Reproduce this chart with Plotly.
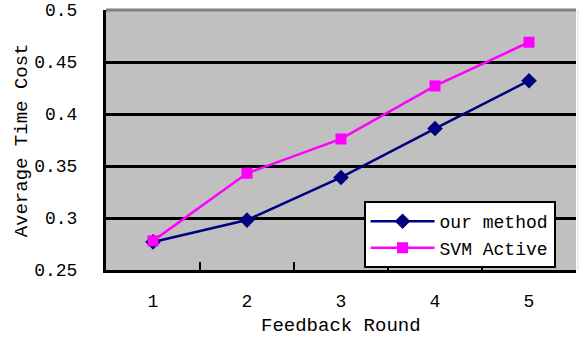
import plotly.graph_objects as go

rounds = [1, 2, 3, 4, 5]
our_method = [0.277, 0.298, 0.339, 0.386, 0.432]
svm_active = [0.278, 0.343, 0.376, 0.427, 0.469]
y_ticks = [0.25, 0.3, 0.35, 0.4, 0.45, 0.5]
y_tick_labels = ["0.25", "0.3", "0.35", "0.4", "0.45", "0.5"]

FONT = "Liberation Mono"

fig = go.Figure()
fig.add_trace(go.Scatter(
    x=rounds, y=our_method, name="our method", mode="lines+markers",
    line=dict(color="#000080", width=2.5),
    marker=dict(symbol="diamond", size=12, color="#000080"),
))
fig.add_trace(go.Scatter(
    x=rounds, y=svm_active, name="SVM Active", mode="lines+markers",
    line=dict(color="#FF00FF", width=2.5),
    marker=dict(symbol="square", size=11, color="#FF00FF"),
))

fig.update_layout(
    width=584, height=337,
    margin=dict(l=106, r=8, t=10, b=67),
    paper_bgcolor="white", plot_bgcolor="#C0C0C0",
    font=dict(family=FONT, size=18, color="black"),
    showlegend=True,
    legend=dict(
        x=0.548, y=0.265, xanchor="left", yanchor="top",
        bgcolor="white", bordercolor="black", borderwidth=2,
        font=dict(family=FONT, size=18),
        itemwidth=64, tracegroupgap=0,
    ),
    xaxis=dict(
        range=[0.5, 5.5], tickvals=rounds, ticktext=[str(r) for r in rounds],
        ticks="", showgrid=False, zeroline=False, automargin=False,
        showline=True, linecolor="black", linewidth=3,
        minor=dict(tickvals=[1.5, 2.5, 3.5, 4.5], ticks="inside", ticklen=8,
                   tickwidth=2, tickcolor="black", showgrid=False),
        ticklabelstandoff=12,
    ),
    yaxis=dict(
        range=[0.25, 0.5], tickvals=y_ticks, ticktext=y_tick_labels,
        ticks="inside", ticklen=6, tickwidth=2, tickcolor="black",
        showgrid=True, gridcolor="black", gridwidth=2.5, zeroline=False,
        automargin=False,
        showline=True, linecolor="black", linewidth=3,
        ticklabelstandoff=22,
    ),
    annotations=[
        dict(text="Feedback Round", xref="paper", yref="paper", x=0.5, y=-0.215,
             xanchor="center", yanchor="middle", showarrow=False,
             font=dict(family=FONT, size=19)),
        dict(text="Average Time Cost", xref="paper", yref="paper", x=-0.178, y=0.5,
             xanchor="center", yanchor="middle", showarrow=False, textangle=-90,
             font=dict(family=FONT, size=19)),
    ],
    shapes=[
        dict(type="line", xref="paper", yref="paper", x0=0, x1=1, y0=1, y1=1,
             line=dict(color="#808080", width=3)),
        dict(type="line", xref="paper", yref="paper", x0=1.004, x1=1.004, y0=0, y1=1,
             line=dict(color="#D8D8D8", width=1)),
    ],
)

fig.write_html("out.html", config={"displayModeBar": False},
               post_script="document.body.style.margin='0';")
